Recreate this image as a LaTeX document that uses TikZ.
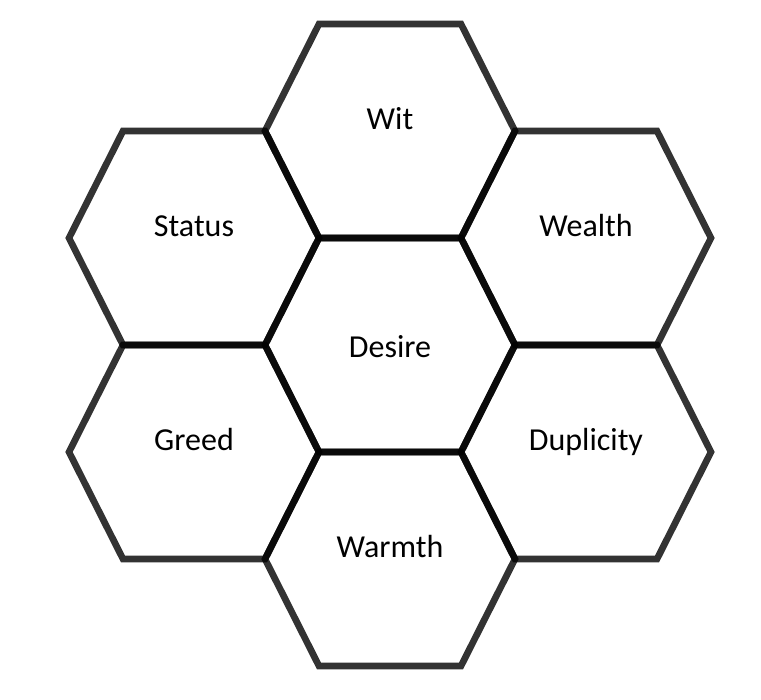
\documentclass[tikz,border=0pt]{standalone}
\usepackage{fontspec}
\setmainfont{Carlito}
\tikzset{
  hexcell/.style={draw=black, draw opacity=0.8, line width=5pt},
  hexlabel/.style={font=\fontsize{24}{28}\selectfont, anchor=base},
}
\begin{document}
\begin{tikzpicture}[x=0.75pt, y=-0.75pt]
    \useasboundingbox (0,0) rectangle (761,700);
    % 六角形の中心
    \coordinate (wit) at (390,131);
    \coordinate (status) at (194,238);
    \coordinate (wealth) at (586,238);
    \coordinate (desire) at (390,345);
    \coordinate (greed) at (194,452);
    \coordinate (duplicity) at (586,452);
    \coordinate (warmth) at (390,559);
    % 六角形
    \foreach \c in {wit,status,wealth,desire,greed,duplicity,warmth}
      \draw[hexcell, shift={(\c)}] (-125,0) -- (-71,-107) -- (71,-107) -- (125,0) -- (71,107) -- (-71,107) -- cycle;
    % ラベル
    \node[hexlabel, yshift=1pt] (witlabel) at (wit) {Wit};
    \node[hexlabel, yshift=1pt] (statuslabel) at (status) {Status};
    \node[hexlabel, yshift=1pt] (wealthlabel) at (wealth) {Wealth};
    \node[hexlabel, yshift=-9pt] (desirelabel) at (desire) {Desire};
    \node[hexlabel, yshift=1pt] (greedlabel) at (greed) {Greed};
    \node[hexlabel, yshift=1pt] (duplicitylabel) at (duplicity) {Duplicity};
    \node[hexlabel, yshift=1pt] (warmthlabel) at (warmth) {Warmth};
  \end{tikzpicture}
\end{document}
